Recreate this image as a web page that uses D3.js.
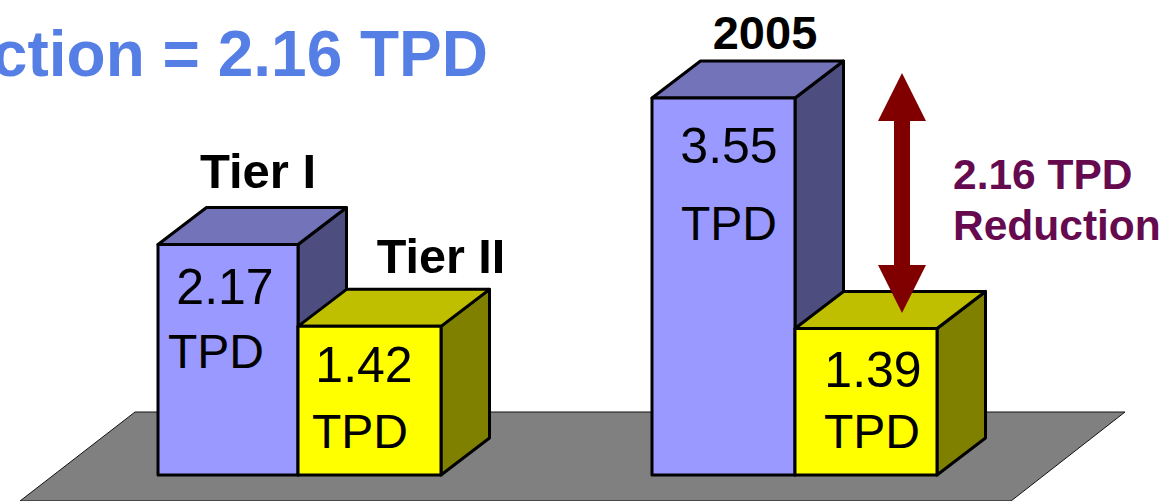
<!DOCTYPE html>
<html><head><meta charset="utf-8">
<script src="https://cdn.jsdelivr.net/npm/d3@7"></script>
<style>html,body{margin:0;padding:0;background:#fff;overflow:hidden}svg{display:block}text{font-family:"Liberation Sans",Arial,sans-serif}</style>
</head><body><svg id="c" width="1176" height="501"></svg>
<script>
const groups = ["Tier", "2005"];
const series = ["blue", "yellow"];
const barHeights = [[2.17, 1.40], [3.55, 1.38]];   // heights
const valueLabels = [["2.17", "1.42"], ["3.55", "1.39"]];
const unitLabel = "TPD";
const headLabels = [["Tier I", "Tier II"], ["2005", null]];
const titleText = "Reduction = 2.16 TPD";
const noteLines = ["2.16 TPD", "Reduction"];

const palette = {
  blue:   {front:"#9999FF", top:"#7373B9", side:"#4D4D80"},
  yellow: {front:"#FFFF00", top:"#BFBF00", side:"#808000"}
};
const svg = d3.select("#c");
const baseY = 475, depthX = 48.5, depthY = -37;
const y = d3.scaleLinear().domain([0, 3.55]).range([baseY, 98]);
const barKey = (g, s) => g + "|" + s;
const xSpan = d3.scaleOrdinal()
  .domain(groups.flatMap(g => series.map(s => barKey(g, s))))
  .range([[158, 298], [298, 441], [652, 795], [795, 937]]);
const poly = p => "M" + p.map(q => q.join(",")).join("L") + "Z";

// floor
svg.append("path").attr("d", poly([[135,412],[1125,412],[1011,501],[20,501]]))
   .attr("fill", "#808080").attr("stroke", "#111").attr("stroke-width", 1);

// title
svg.append("text").attr("x", 488).attr("y", 76).attr("text-anchor", "end")
   .attr("font-size", 64).attr("font-weight", "bold").attr("fill", "#567FE6").text(titleText);

// bars
const bars = groups.flatMap((g, i) => series.map((s, j) => ({g, s, h: barHeights[i][j]})));
const bar = svg.selectAll("g.bar").data(bars).join("g").attr("class", "bar")
   .attr("stroke", "#000").attr("stroke-width", 3).attr("stroke-linejoin", "round");
const L = d => xSpan(barKey(d.g, d.s))[0], R = d => xSpan(barKey(d.g, d.s))[1], T = d => y(d.h);
bar.append("path").attr("fill", d => palette[d.s].side)
   .attr("d", d => poly([[R(d),T(d)],[R(d)+depthX,T(d)+depthY],[R(d)+depthX,baseY+depthY],[R(d),baseY]]));
bar.append("path").attr("fill", d => palette[d.s].top)
   .attr("d", d => poly([[L(d),T(d)],[L(d)+depthX,T(d)+depthY],[R(d)+depthX,T(d)+depthY],[R(d),T(d)]]));
bar.append("rect").attr("fill", d => palette[d.s].front)
   .attr("x", L).attr("y", T).attr("width", d => R(d) - L(d)).attr("height", d => baseY - T(d));

// value labels inside the bars
const placement = [
  [{vx:225, vy:304, ux:216, uy:368}, {vx:364, vy:382, ux:360, uy:448}],
  [{vx:729, vy:163, ux:729, uy:240}, {vx:873, vy:387, ux:872, uy:448}]
];
valueLabels.forEach((row, i) => row.forEach((v, j) => {
  const p = placement[i][j];
  svg.append("text").attr("x", p.vx).attr("y", p.vy).attr("text-anchor", "middle").attr("font-size", 50).text(v);
  svg.append("text").attr("x", p.ux).attr("y", p.uy).attr("text-anchor", "middle").attr("font-size", 48).text(unitLabel);
}));

// head labels
const headPlace = [[{x:258, y:188, s:49}, {x:441, y:273, s:48.5}], [{x:765, y:49, s:47}, null]];
headLabels.forEach((row, i) => row.forEach((t, j) => {
  if (!t) return;
  const p = headPlace[i][j];
  svg.append("text").attr("x", p.x).attr("y", p.y)
     .attr("text-anchor", "middle").attr("font-size", p.s).attr("font-weight", "bold").text(t);
}));

// reduction arrow
const ax = 902, arrowTop = 73, arrowBot = 313, hl = 48, hw = 24, sw = 8;
svg.append("path").attr("fill", "#800000").attr("d", poly([
  [ax,arrowTop],[ax+hw,arrowTop+hl],[ax+sw,arrowTop+hl],[ax+sw,arrowBot-hl],[ax+hw,arrowBot-hl],[ax,arrowBot],
  [ax-hw,arrowBot-hl],[ax-sw,arrowBot-hl],[ax-sw,arrowTop+hl],[ax-hw,arrowTop+hl]]));

// note
svg.selectAll("text.note").data(noteLines).join("text").attr("class", "note")
   .attr("x", 953).attr("y", (d, i) => 189 + i * 51)
   .attr("font-size", 42.5).attr("font-weight", "bold").attr("fill", "#660A50").text(d => d);
</script></body></html>
